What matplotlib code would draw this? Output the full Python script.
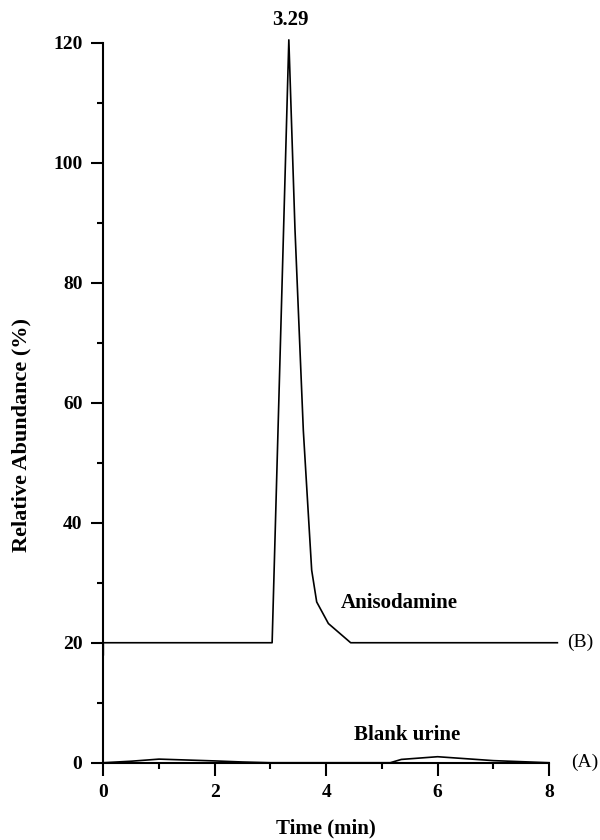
import matplotlib
matplotlib.use("Agg")
import matplotlib.pyplot as plt
from matplotlib.ticker import MultipleLocator

# Trace B: Anisodamine (offset baseline at 20)
time_b = [0.0, 0.0, 3.03, 3.33, 3.44, 3.59, 3.74, 3.83, 4.04, 4.44, 8.15]
abund_b = [18.0, 20.0, 20.0, 120.5, 89.0, 55.4, 32.1, 26.8, 23.2, 20.0, 20.0]

# Trace A: Blank urine (baseline at 0)
time_a = [0.0, 0.5, 1.0, 1.5, 2.0, 2.5, 3.0, 5.15, 5.35, 6.0, 7.0, 8.0]
abund_a = [0.0, 0.25, 0.6, 0.45, 0.3, 0.12, 0.0, 0.0, 0.55, 1.0, 0.35, 0.0]

x_ticks = [0, 2, 4, 6, 8]
y_ticks = [0, 20, 40, 60, 80, 100, 120]

serif = ["Liberation Serif", "DejaVu Serif"]

fig = plt.figure(figsize=(6, 8.4), dpi=100)
ax = fig.add_axes([0.1722, 0.092, 0.7428, 0.857])

ax.plot(time_b, abund_b, color="black", lw=1.2, clip_on=False)
ax.plot(time_a, abund_a, color="black", lw=1.2, clip_on=False)

ax.set_xlim(0, 8)
ax.set_ylim(0, 120)
ax.set_xticks(x_ticks)
ax.set_yticks(y_ticks)
ax.xaxis.set_minor_locator(MultipleLocator(1))
ax.yaxis.set_minor_locator(MultipleLocator(10))

for s in ["top", "right"]:
    ax.spines[s].set_visible(False)
for s in ["left", "bottom"]:
    ax.spines[s].set_linewidth(1.5)

ax.tick_params(which="major", direction="out", length=9, width=1.5, pad=6)
ax.tick_params(which="minor", direction="out", length=4.5, width=1.5)

for lab in ax.get_xticklabels() + ax.get_yticklabels():
    lab.set_fontfamily(serif)
    lab.set_fontweight("bold")
    lab.set_fontsize(14)

ax.set_xlabel("Time (min)", fontfamily=serif, fontweight="bold", fontsize=15)
ax.xaxis.set_label_coords(0.5, -0.078)
ax.set_ylabel("Relative Abundance (%)", fontfamily=serif, fontweight="bold", fontsize=16)
ax.yaxis.set_label_coords(-0.162, 0.455)

ax.text(3.35, 122.2, "3.29", fontfamily=serif, fontweight="bold", fontsize=15,
        ha="center", va="bottom")
ax.text(4.27, 25.8, "Anisodamine", fontfamily=serif, fontweight="bold", fontsize=15,
        ha="left", va="baseline")
ax.text(4.5, 3.8, "Blank urine", fontfamily=serif, fontweight="bold", fontsize=15,
        ha="left", va="baseline")
ax.text(8.33, 20, "(B)", fontfamily=serif, fontsize=14, ha="left", va="center")
ax.text(8.39, 0, "(A)", fontfamily=serif, fontsize=14, ha="left", va="center")

fig.savefig("out.png", dpi=100)
